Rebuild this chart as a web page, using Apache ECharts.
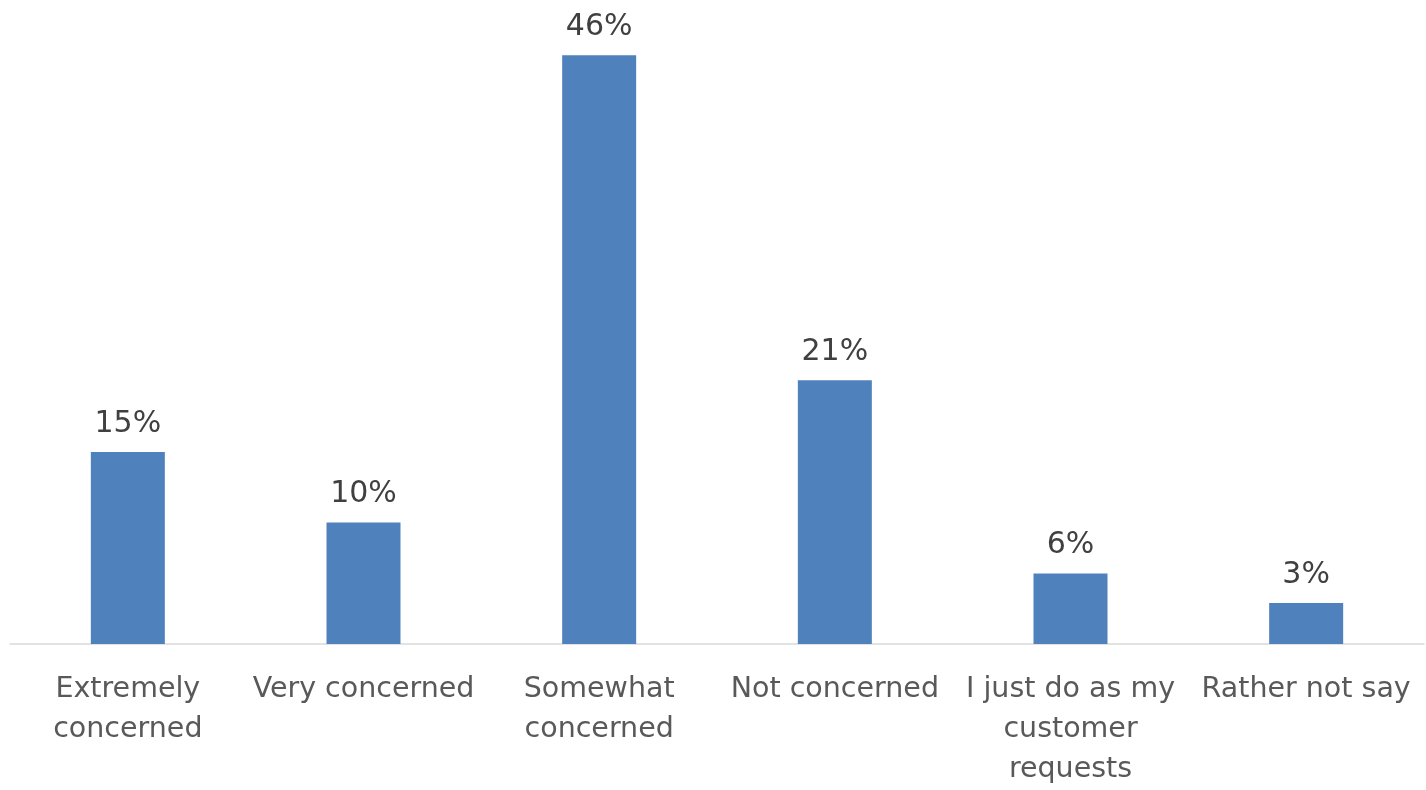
<!DOCTYPE html>
<html>
<head>
<meta charset="utf-8">
<script src="https://cdn.jsdelivr.net/npm/echarts@6/dist/echarts.min.js"></script>
<style>
html,body{margin:0;padding:0;background:#fff;}
#chart{width:1426px;height:790px;}
</style>
</head>
<body>
<div id="chart"></div>
<script>
const categories = [
  "Extremely\nconcerned",
  "Very concerned",
  "Somewhat\nconcerned",
  "Not concerned",
  "I just do as my\ncustomer\nrequests",
  "Rather not say"
];
const values = [15.0, 9.5, 46.0, 20.6, 5.5, 3.2];

const FONT = "DejaVu Sans";
const chart = echarts.init(document.getElementById('chart'));
chart.setOption({
  animation: false,
  backgroundColor: '#ffffff',
  grid: { left: 10, right: 2, top: 4, bottom: 143, containLabel: false },
  xAxis: {
    type: 'category',
    data: categories,
    axisLine: { show: true, lineStyle: { color: '#d9d9d9', width: 1.5 } },
    axisTick: { show: false },
    axisLabel: {
      interval: 0,
      margin: 26,
      color: '#595959',
      fontFamily: FONT,
      fontSize: 28.5,
      lineHeight: 40
    }
  },
  yAxis: {
    type: 'value',
    min: 0,
    max: 50,
    show: false,
    splitLine: { show: false }
  },
  series: [{
    type: 'bar',
    data: values,
    barWidth: 74,
    itemStyle: { color: '#4f81bd' },
    label: {
      show: true,
      position: 'top',
      distance: 13,
      color: '#404040',
      fontFamily: FONT,
      fontSize: 30,
      formatter: p => Math.round(p.value) + '%'
    }
  }]
});
</script>
</body>
</html>
